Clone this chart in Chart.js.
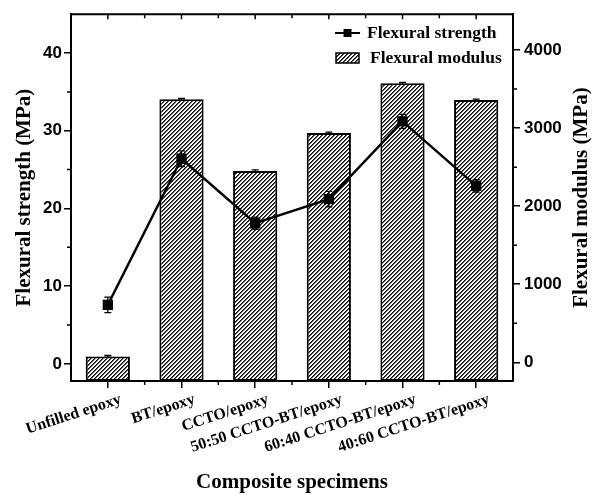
<!DOCTYPE html>
<html>
<head>
<meta charset="utf-8">
<script src="https://cdn.jsdelivr.net/npm/chart.js@4.4.0/dist/chart.umd.min.js"></script>
<style>
  body { margin: 0; background: #fff; }
  #chart { display: block; }
</style>
</head>
<body>
<canvas id="chart" width="596" height="495"></canvas>
<script>
// Data
const specimens = ["Unfilled epoxy", "BT/epoxy", "CCTO/epoxy", "50:50 CCTO-BT/epoxy", "60:40 CCTO-BT/epoxy", "40:60 CCTO-BT/epoxy"];
const strength = [7.6, 26.4, 18.1, 21.2, 31.2, 22.9];
const strengthErr = [1.0, 1.0, 0.8, 1.0, 0.9, 0.8];
const modulus = [75, 3370, 2452, 2938, 3574, 3360];
const modulusErr = [12, 12, 12, 12, 12, 12];
const strengthTicks = [0, 10, 20, 30, 40];
const modulusTicks = [0, 1000, 2000, 3000, 4000];

const serif = "'Liberation Serif', 'Times New Roman', serif";
const sans = "'Liberation Sans', Arial, sans-serif";

// Hatch pattern "////", drawn pixel by pixel so the stripes stay crisp
function makeHatch() {
  const s = 4;
  const c = document.createElement("canvas");
  c.width = s; c.height = s;
  const g = c.getContext("2d");
  g.fillStyle = "#fff";
  g.fillRect(0, 0, s, s);
  for (let px = 0; px < s; px++) {
    for (let py = 0; py < s; py++) {
      const k = (px + py) % s;
      if (k === 0) { g.fillStyle = "#000"; g.fillRect(px, py, 1, 1); }
      if (k === 1) { g.fillStyle = "#555"; g.fillRect(px, py, 1, 1); }
    }
  }
  return g.createPattern(c, "repeat");
}
const canvasRef = document.getElementById("chart");
const hatch = makeHatch();

// Error bars, minor ticks, top frame, right title and legend
const extras = {
  id: "extras",
  afterDatasetsDraw(chart) {
    const ctx = chart.ctx;
    const x = chart.scales.x, y = chart.scales.y, y1 = chart.scales.y1;
    ctx.save();
    ctx.strokeStyle = "#000";
    ctx.lineWidth = 1.3;
    function errBar(px, lo, hi) {
      ctx.beginPath();
      ctx.moveTo(px, lo); ctx.lineTo(px, hi);
      ctx.moveTo(px - 3.5, lo); ctx.lineTo(px + 3.5, lo);
      ctx.moveTo(px - 3.5, hi); ctx.lineTo(px + 3.5, hi);
      ctx.stroke();
    }
    for (let i = 0; i < specimens.length; i++) {
      const px = x.getPixelForValue(i);
      errBar(px, y1.getPixelForValue(modulus[i] - modulusErr[i]), y1.getPixelForValue(modulus[i] + modulusErr[i]));
      errBar(px, y.getPixelForValue(strength[i] - strengthErr[i]), y.getPixelForValue(strength[i] + strengthErr[i]));
    }
    ctx.restore();
  },
  afterDraw(chart) {
    const ctx = chart.ctx;
    const a = chart.chartArea;
    const x = chart.scales.x, y = chart.scales.y, y1 = chart.scales.y1;
    ctx.save();
    ctx.strokeStyle = "#000";
    // top frame
    ctx.lineWidth = 2;
    ctx.beginPath();
    ctx.moveTo(a.left - 1, a.top); ctx.lineTo(a.right + 1, a.top);
    ctx.stroke();
    ctx.lineWidth = 1.5;
    ctx.beginPath();
    // left minor ticks
    for (let v = 5; v < 45; v += 10) {
      const py = y.getPixelForValue(v);
      ctx.moveTo(a.left, py); ctx.lineTo(a.left - 4, py);
    }
    // right minor ticks
    for (let v = 500; v < 4460; v += 1000) {
      const py = y1.getPixelForValue(v);
      ctx.moveTo(a.right, py); ctx.lineTo(a.right + 4, py);
    }
    // bottom minor + top ticks
    for (let i = 0; i < specimens.length; i++) {
      const px = x.getPixelForValue(i);
      ctx.moveTo(px, a.top); ctx.lineTo(px, a.top + 5);
      const bx = px + (x.getPixelForValue(1) - x.getPixelForValue(0)) / 2;
      if (i < specimens.length - 1) {
        ctx.moveTo(bx, a.bottom); ctx.lineTo(bx, a.bottom + 4);
        ctx.moveTo(bx, a.top); ctx.lineTo(bx, a.top + 4);
      }
    }
    ctx.stroke();

    // right axis title, reading bottom to top
    ctx.save();
    ctx.translate(582, (a.top + a.bottom) / 2);
    ctx.rotate(-Math.PI / 2);
    ctx.fillStyle = "#000";
    ctx.font = "bold 21px " + serif;
    ctx.textAlign = "center";
    ctx.textBaseline = "middle";
    ctx.fillText("Flexural modulus (MPa)", 0, 0);
    ctx.restore();

    // legend
    ctx.lineWidth = 2;
    ctx.beginPath();
    ctx.moveTo(335, 33); ctx.lineTo(360, 33);
    ctx.stroke();
    ctx.fillStyle = "#000";
    ctx.fillRect(343.5, 29, 8, 8);
    ctx.fillStyle = hatch;
    ctx.fillRect(336, 53, 23, 10);
    ctx.lineWidth = 1.5;
    ctx.strokeRect(336, 53, 23, 10);
    ctx.fillStyle = "#000";
    ctx.font = "bold 17.5px " + serif;
    ctx.textBaseline = "middle";
    ctx.textAlign = "left";
    ctx.fillText("Flexural strength", 367, 33);
    ctx.fillText("Flexural modulus", 370, 58);
    ctx.restore();
  }
};

const myChart = new Chart(canvasRef, {
  type: "bar",
  data: {
    labels: specimens,
    datasets: [
      {
        type: "line",
        label: "Flexural strength",
        data: strength,
        yAxisID: "y",
        borderColor: "#000",
        backgroundColor: "#000",
        borderWidth: 2.4,
        pointStyle: "rect",
        pointRadius: 5.6,
        tension: 0,
        order: 0,
      },
      {
        type: "bar",
        label: "Flexural modulus",
        data: modulus,
        yAxisID: "y1",
        base: -240,
        backgroundColor: hatch,
        borderColor: "#000",
        borderWidth: 2,
        borderSkipped: false,
        categoryPercentage: 0.6,
        barPercentage: 1,
        order: 1,
      },
    ],
  },
  options: {
    responsive: false,
    animation: false,
    layout: { padding: { top: 13, left: 0, right: 0, bottom: 0 } },
    plugins: { legend: { display: false }, tooltip: { enabled: false } },
    scales: {
      x: {
        offset: true,
        grid: { offset: false, drawOnChartArea: false, drawTicks: true, tickLength: 7, lineWidth: 1.5, color: "#000" },
        border: { color: "#000", width: 2 },
        ticks: { color: "#000", font: { family: serif, size: 16, weight: "bold" }, autoSkip: false, minRotation: 18, maxRotation: 18, labelOffset: 13, padding: 2 },
        title: { display: true, text: "Composite specimens", color: "#000", font: { family: serif, size: 21, weight: "bold" }, padding: { top: 0, bottom: 0 } },
        afterFit(scale) { scale.height = 114; },
      },
      y: {
        position: "left",
        min: -2.2,
        max: 45,
        afterBuildTicks(scale) { scale.ticks = strengthTicks.map(v => ({ value: v })); },
        grid: { drawOnChartArea: false, drawTicks: true, tickLength: 7, lineWidth: 1.5, color: "#000" },
        border: { color: "#000", width: 2 },
        ticks: { color: "#000", font: { family: sans, size: 17, weight: "bold" }, padding: 2 },
        title: { display: true, text: "Flexural strength (MPa)", color: "#000", font: { family: serif, size: 21, weight: "bold" }, padding: { top: 12, bottom: 0 } },
        afterFit(scale) { scale.width = 71; },
      },
      y1: {
        position: "right",
        min: -240,
        max: 4460,
        afterBuildTicks(scale) { scale.ticks = modulusTicks.map(v => ({ value: v })); },
        grid: { drawOnChartArea: false, drawTicks: true, tickLength: 7, lineWidth: 1.5, color: "#000" },
        border: { color: "#000", width: 2 },
        ticks: { color: "#000", font: { family: sans, size: 17, weight: "bold" }, padding: 4, callback: v => String(v) },
        title: { display: false },
        afterFit(scale) { scale.width = 83; },
      },
    },
  },
  plugins: [extras],
});
</script>
</body>
</html>
